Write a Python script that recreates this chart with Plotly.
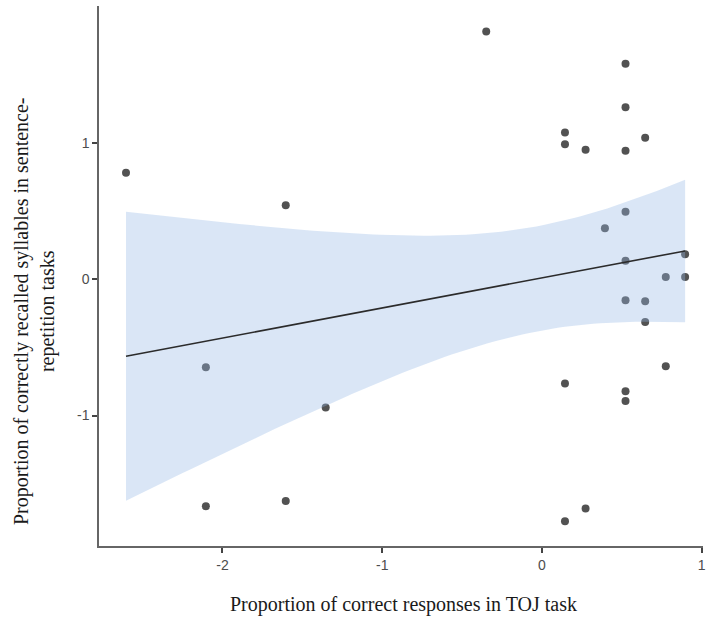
import numpy as np
import plotly.graph_objects as go

# Data (standardised scores)
toj_score = [-2.604, -1.604, -0.349, 0.523, 0.523, 0.144, 0.144, 0.273, 0.523, 0.646,
             0.523, 0.394, 0.523, 0.896, 0.775, 0.896, 0.523, 0.646, 0.646, 0.775,
             0.144, 0.523, 0.523, 0.273, 0.144, -2.104, -2.104, -1.604, -1.354]
recall_score = [0.785, 0.546, 1.823, 1.585, 1.265, 1.081, 0.993, 0.953, 0.946, 1.041,
                0.497, 0.377, 0.137, 0.186, 0.019, 0.019, -0.152, -0.160, -0.312, -0.638,
                -0.765, -0.821, -0.893, -1.684, -1.777, -0.645, -1.667, -1.628, -0.941]

x_title = "Proportion of correct responses in TOJ task"
y_title = "Proportion of correctly recalled syllables in sentence-<br>repetition tasks"
x_ticks = [-2, -1, 0, 1]
x_ticklabels = ["-2", "-1", "0", "1"]
y_ticks = [-1, 0, 1]
y_ticklabels = ["-1", "0", "1"]

# linear fit with 95% CI (like geom_smooth(method="lm"))
x = np.array(toj_score)
y = np.array(recall_score)
n = len(x)
b, a = np.polyfit(x, y, 1)
resid = y - (a + b * x)
s = np.sqrt(np.sum(resid ** 2) / (n - 2))
t_crit = 2.0518  # t(0.975, df=27)
xbar = x.mean()
sxx = np.sum((x - xbar) ** 2)
xs = np.linspace(x.min(), x.max(), 80)
yhat = a + b * xs
hw = t_crit * s * np.sqrt(1.0 / n + (xs - xbar) ** 2 / sxx)
upper = yhat + hw
lower = yhat - hw

fig = go.Figure()
fig.add_trace(go.Scatter(x=toj_score, y=recall_score, mode="markers",
                         marker=dict(size=8, color="#525252"), showlegend=False,
                         hoverinfo="skip"))
fig.add_trace(go.Scatter(x=np.concatenate([xs, xs[::-1]]),
                         y=np.concatenate([upper, lower[::-1]]),
                         fill="toself", fillcolor="rgba(149,184,229,0.35)",
                         line=dict(width=0), mode="lines", showlegend=False,
                         hoverinfo="skip"))
fig.add_trace(go.Scatter(x=xs, y=yhat, mode="lines",
                         line=dict(color="#2b2b2b", width=1.6), showlegend=False))

axis_common = dict(showgrid=False, zeroline=False, showline=True, linecolor="#666666",
                   linewidth=1.5, ticks="outside", ticklen=5, tickwidth=1.5,
                   tickcolor="#444444", ticklabeloverflow="allow",
                   tickfont=dict(family="Liberation Sans, Arial", size=14, color="#4d4d4d"))

fig.update_layout(
    width=706, height=618,
    margin=dict(l=99, r=0, t=6, b=72),
    plot_bgcolor="white", paper_bgcolor="white",
    xaxis=dict(range=[-2.773, 1.008], tickvals=x_ticks, ticktext=x_ticklabels, **axis_common),
    yaxis=dict(range=[-1.959, 2.01], tickvals=y_ticks, ticktext=y_ticklabels, **axis_common),
    annotations=[
        dict(text=x_title, xref="paper", yref="paper", x=0.504, y=0, yshift=-58,
             xanchor="center", yanchor="middle", showarrow=False,
             font=dict(family="Liberation Serif, Times New Roman", size=20, color="#1a1a1a")),
        dict(text=y_title, xref="paper", yref="paper", x=0, xshift=-65, y=0.435,
             xanchor="center", yanchor="middle", showarrow=False, textangle=-90,
             font=dict(family="Liberation Serif, Times New Roman", size=20, color="#1a1a1a")),
    ],
)

fig.write_html("out.html", config={"displayModeBar": False},
               post_script="document.body.style.margin='0';document.body.style.padding='0';")
